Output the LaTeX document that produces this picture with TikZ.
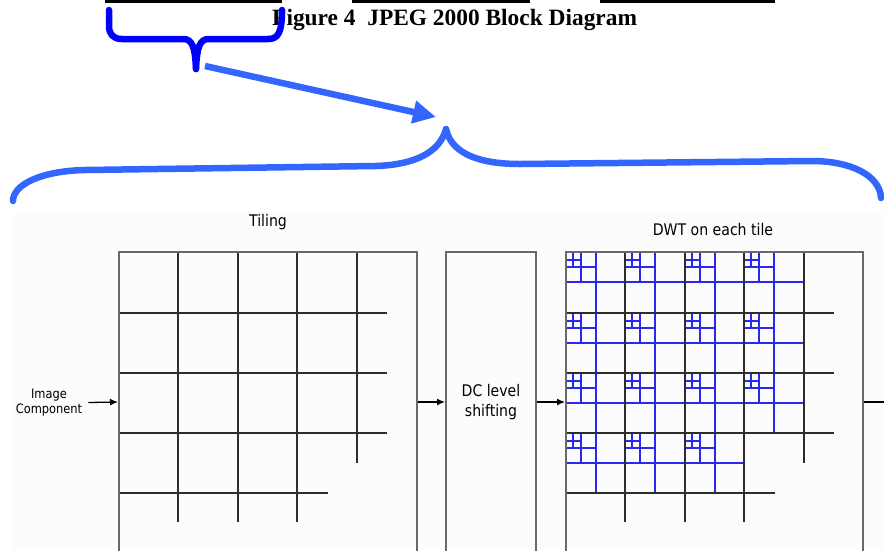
\documentclass[tikz,border=0pt]{standalone}
\usepackage{fontspec}
\setmainfont{Liberation Serif}
\newfontfamily\sansf{DejaVu Sans}[FakeStretch=0.88]
\usetikzlibrary{arrows.meta}
\definecolor{dblue}{RGB}{0,0,255}
\definecolor{lblue}{RGB}{51,102,255}
\definecolor{boxgray}{RGB}{105,105,105}
\definecolor{gridc}{RGB}{45,45,45}
\definecolor{dwtblue}{RGB}{40,40,240}
\definecolor{panel}{RGB}{252,252,252}
\tikzset{
  stagebox/.style={draw=boxgray, line width=2pt, rectangle, inner sep=0pt, minimum height=300pt},
  gridline/.style={draw=gridc, line width=1.6pt},
  dwtline/.style={draw=dwtblue, line width=1.5pt},
  flow/.style={draw=black, line width=1.3pt, -{Latex[length=8pt,width=7pt]}},
  lab/.style={font=\sansf\fontsize{16}{20}\selectfont, align=center, inner sep=0pt},
  smalllab/.style={font=\sansf\fontsize{13}{15}\selectfont, align=center, inner ysep=0pt, inner xsep=6pt},
  bigbrace/.style={draw=lblue, line width=6.5pt, line cap=round, line join=round},
  smallbrace/.style={draw=dblue, line width=6.5pt, line cap=round, line join=round},
  topbar/.style={fill=black},
}
\begin{document}
\begin{tikzpicture}[x=1pt,y=-1pt]
\useasboundingbox (0,0) rectangle (884,550);
\clip (0,0) rectangle (884,550);
% lower panel background
\fill[panel] (13,212) rectangle (884,550);

% top black bars
\fill[topbar] (105,0) rectangle (282,2.7);
\fill[topbar] (352,0) rectangle (530,2.7);
\fill[topbar] (600,0) rectangle (775,2.7);

% title
\node[anchor=base west, inner sep=0pt, font=\bfseries\fontsize{23.4}{28}\selectfont] (title) at (272,25) {Figure 4\ \ JPEG 2000 Block Diagram};

% small dark blue brace
\draw[smallbrace] (109,10) -- (109,26) .. controls (109,34) and (113,39) .. (122,39) -- (183,39)
  .. controls (192,39) and (195,46) .. (196,69);
\draw[smallbrace] (196,69) .. controls (197,46) and (200,39) .. (209,39) -- (268,39)
  .. controls (278,39) and (282,33) .. (282,10);

% connecting arrow
\coordinate (arrS) at (205,66);
\coordinate (arrE) at (436,117);
\draw[draw=lblue, line width=6.5pt, -{Triangle[length=23pt,width=22pt]}] (arrS) -- (arrE);

% big light blue brace
\draw[bigbrace] (13,201) .. controls (13,185) and (40,171) .. (85,170) -- (375,166)
  .. controls (415,165) and (440,152) .. (446,129);
\draw[bigbrace] (446,129) .. controls (451,152) and (476,164) .. (520,164) -- (812,161)
  .. controls (850,161) and (880,175) .. (881,198);

% labels
\node[lab] (tiling) at (268,222) {Tiling};
\node[lab] (dwtlab) at (713,230) {DWT on each tile};
\node[smalllab] (img) at (49,402.5) {Image\\Component};

% tiling grid
\foreach \yy in {313,373,433} \draw[gridline] (119,\yy) -- (387,\yy);
\draw[gridline] (119,493) -- (328,493);
\foreach \xx in {178,238,297} \draw[gridline] (\xx,252) -- (\xx,522);
\draw[gridline] (357,252) -- (357,463);

% DWT blue subdivisions
\foreach \xo/\yo in {566/252,625/252,685/252,744/252,
                     566/313,625/313,685/313,744/313,
                     566/373,625/373,685/373,744/373,
                     566/433,625/433,685/433} {
  \draw[dwtline] (\xo+7,\yo) -- (\xo+7,\yo+15);
  \draw[dwtline] (\xo,\yo+8) -- (\xo+15,\yo+8);
  \draw[dwtline] (\xo+15,\yo) -- (\xo+15,\yo+30);
  \draw[dwtline] (\xo,\yo+15) -- (\xo+30,\yo+15);
  \draw[dwtline] (\xo+30,\yo) -- (\xo+30,\yo+60);
  \draw[dwtline] (\xo,\yo+30) -- (\xo+59,\yo+30);
}

% DWT grid
\foreach \yy in {313,373,433} \draw[gridline] (566,\yy) -- (834,\yy);
\draw[gridline] (566,493) -- (775,493);
\foreach \xx in {625,685,744} \draw[gridline] (\xx,252) -- (\xx,522);
\draw[gridline] (804,252) -- (804,463);

% stage boxes
\node[stagebox, minimum width=298pt] (tilebox) at (268,402) {};
\node[stagebox, minimum width=90pt, lab] (dcbox) at (491,402) {DC level\\shifting};
\node[stagebox, minimum width=297pt] (dwtbox) at (714.5,402) {};
\coordinate (exitpt) at (900,402);

% flow arrows
\draw[flow] (img.east) -- (tilebox.west);
\draw[flow] (tilebox.east) -- (dcbox.west);
\draw[flow] (dcbox.east) -- (dwtbox.west);
\draw[flow] (dwtbox.east) -- (exitpt);
\end{tikzpicture}
\end{document}
